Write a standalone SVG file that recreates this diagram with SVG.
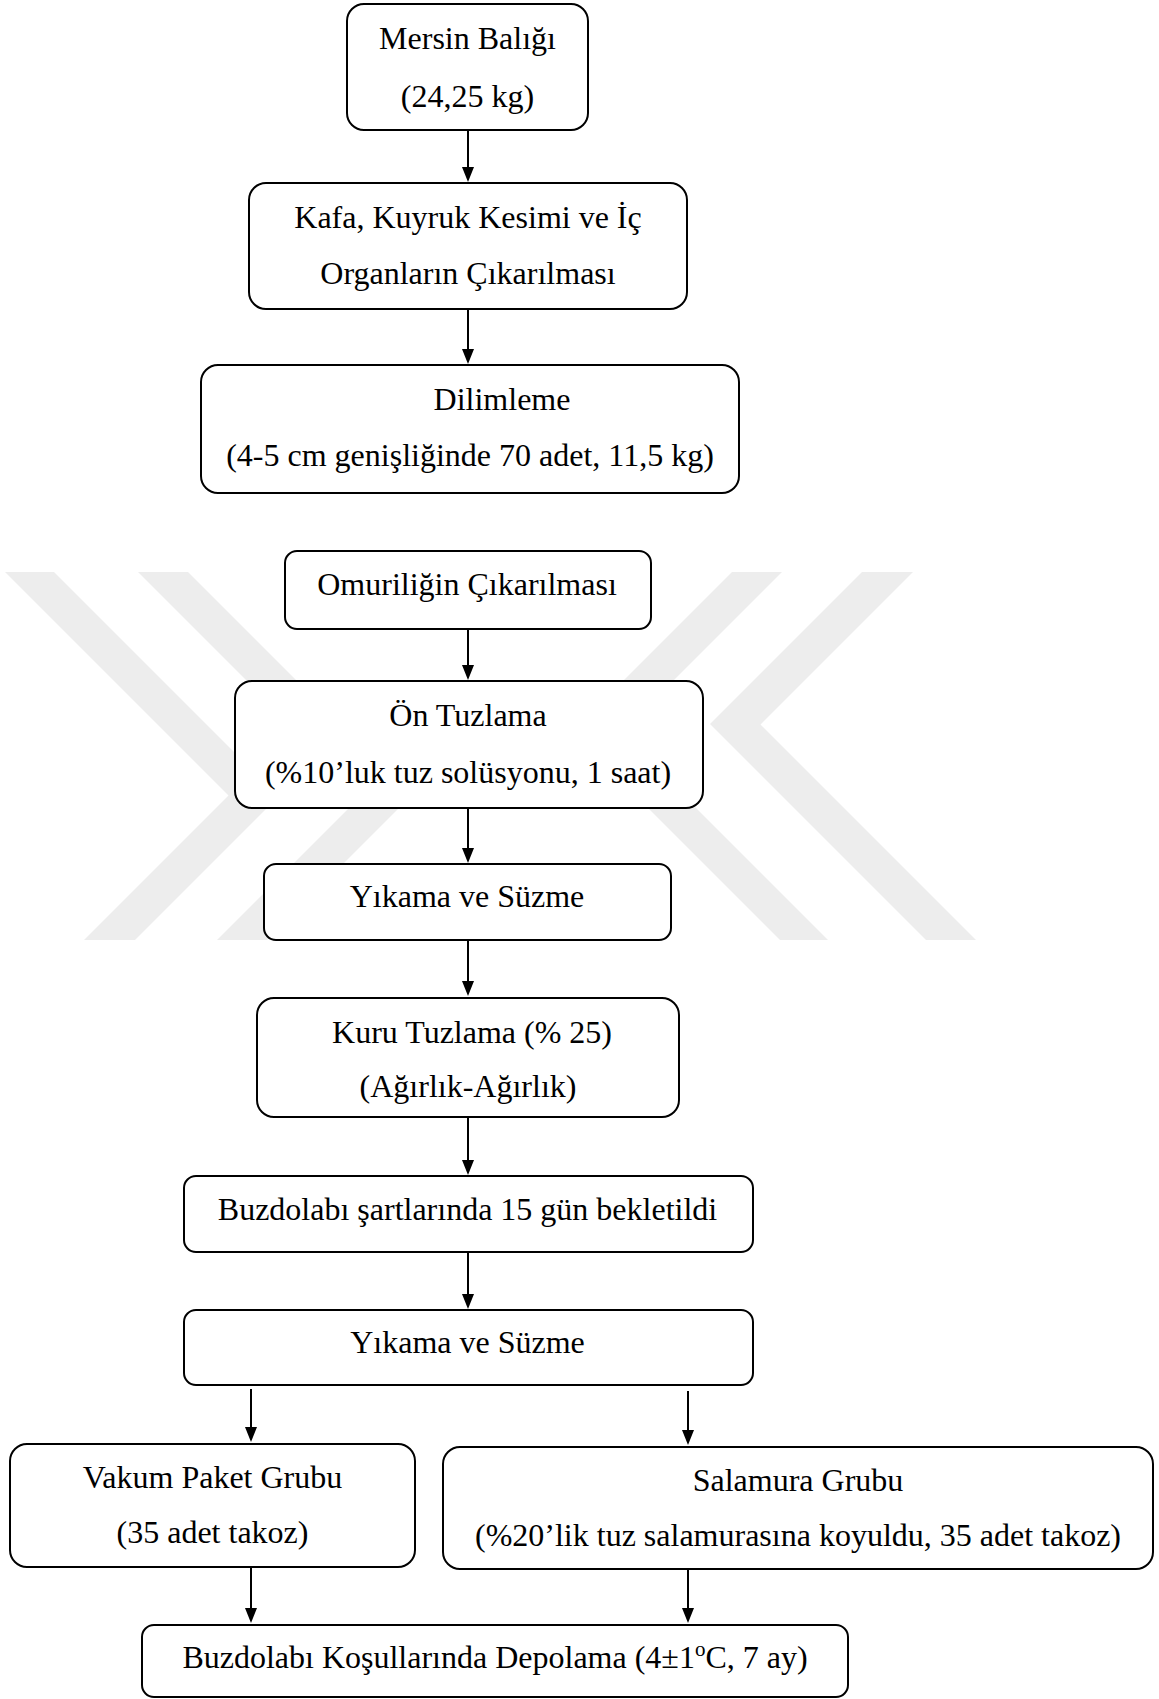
<svg xmlns="http://www.w3.org/2000/svg" width="1159" height="1699" viewBox="0 0 1159 1699">
<style>
.box{fill:#fff;stroke:#000;stroke-width:2}
.t{font-family:"Liberation Serif","Times New Roman",serif;font-size:32px;text-anchor:middle;fill:#000}
.wm{fill:#ededed}
.conn line{stroke:#000;stroke-width:2;marker-end:url(#arr)}
</style>
<defs>
<marker id="arr" markerUnits="userSpaceOnUse" viewBox="0 0 15 12" refX="0" refY="6" markerWidth="15" markerHeight="12" orient="auto">
<path d="M0,0 L15,6 L0,12 z" fill="#000"/>
</marker>
</defs>
<rect width="1159" height="1699" fill="#fff"/>
<g id="watermark">
<polygon class="wm" points="5,572 54,572 278.5,796.5 135,940 84,940 228.5,795.5"/>
<polygon class="wm" points="138,572 188,572 411.5,795.5 267,940 217,940 361.5,795.5"/>
<polygon class="wm" points="862,572 913,572 760.5,724.5 976,940 926,940 710,724"/>
<polygon class="wm" points="732,572 782,572 621,733 828,940 780,940 572,732"/>
</g>
<g id="connectors" class="conn">
<line x1="468" y1="130" x2="468" y2="167"/>
<line x1="468" y1="309" x2="468" y2="349"/>
<line x1="468" y1="629" x2="468" y2="665"/>
<line x1="468" y1="808" x2="468" y2="848"/>
<line x1="468" y1="940" x2="468" y2="981"/>
<line x1="468" y1="1117" x2="468" y2="1160"/>
<line x1="468" y1="1252" x2="468" y2="1294"/>
<line x1="251" y1="1389" x2="251" y2="1427"/>
<line x1="688" y1="1391" x2="688" y2="1430"/>
<line x1="251" y1="1567" x2="251" y2="1608"/>
<line x1="688" y1="1570" x2="688" y2="1608"/>
</g>
<g id="n1"><rect class="box" x="347" y="4" width="241" height="126" rx="17"/><text class="t" x="467.5" y="49">Mersin Balığı</text><text class="t" x="467.5" y="107">(24,25 kg)</text></g>
<g id="n2"><rect class="box" x="249" y="183" width="438" height="126" rx="17"/><text class="t" x="468" y="228">Kafa, Kuyruk Kesimi ve İç</text><text class="t" x="468" y="284">Organların Çıkarılması</text></g>
<g id="n3"><rect class="box" x="201" y="365" width="538" height="128" rx="17"/><text class="t" x="502" y="410">Dilimleme</text><text class="t" x="470" y="466">(4-5 cm genişliğinde 70 adet, 11,5 kg)</text></g>
<g id="n4"><rect class="box" x="285" y="551" width="366" height="78" rx="12"/><text class="t" x="467" y="595">Omuriliğin Çıkarılması</text></g>
<g id="n5"><rect class="box" x="235" y="681" width="468" height="127" rx="17"/><text class="t" x="468" y="726">Ön Tuzlama</text><text class="t" x="468" y="783">(%10’luk tuz solüsyonu, 1 saat)</text></g>
<g id="n6"><rect class="box" x="264" y="864" width="407" height="76" rx="12"/><text class="t" x="467" y="907">Yıkama ve Süzme</text></g>
<g id="n7"><rect class="box" x="257" y="998" width="422" height="119" rx="17"/><text class="t" x="472" y="1043">Kuru Tuzlama (% 25)</text><text class="t" x="468" y="1097">(Ağırlık-Ağırlık)</text></g>
<g id="n8"><rect class="box" x="184" y="1176" width="569" height="76" rx="12"/><text class="t" x="467.5" y="1220">Buzdolabı şartlarında 15 gün bekletildi</text></g>
<g id="n9"><rect class="box" x="184" y="1310" width="569" height="75" rx="12"/><text class="t" x="467.5" y="1353">Yıkama ve Süzme</text></g>
<g id="n10"><rect class="box" x="10" y="1444" width="405" height="123" rx="17"/><text class="t" x="212.5" y="1488">Vakum Paket Grubu</text><text class="t" x="212.5" y="1543">(35 adet takoz)</text></g>
<g id="n11"><rect class="box" x="443" y="1447" width="710" height="122" rx="17"/><text class="t" x="798" y="1491">Salamura Grubu</text><text class="t" x="798" y="1546">(%20’lik tuz salamurasına koyuldu, 35 adet takoz)</text></g>
<g id="n12"><rect class="box" x="142" y="1625" width="706" height="72" rx="12"/><text class="t" x="495" y="1668">Buzdolabı Koşullarında Depolama (4±1<tspan font-size="21" dy="-12">o</tspan><tspan dy="12">C, 7 ay)</tspan></text></g>
</svg>
